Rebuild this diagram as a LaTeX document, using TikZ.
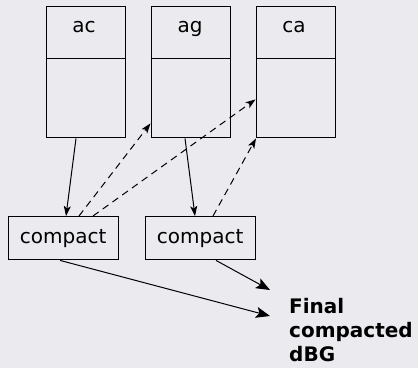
\documentclass[tikz,border=0pt]{standalone}
\usepackage{fontspec}
\setmainfont{DejaVu Sans}
\usetikzlibrary{arrows.meta,calc}
\definecolor{bg}{RGB}{235,234,239}
\tikzset{
  colbox/.style={draw, line width=1.4pt, minimum width=79pt, minimum height=131pt, inner sep=0pt, anchor=north west},
  cbox/.style={draw, line width=1.4pt, minimum width=110pt, minimum height=43pt, inner sep=0pt, anchor=north west, font=\fontsize{20}{24}\selectfont},
  lbl/.style={font=\fontsize{20}{24}\selectfont, inner sep=0pt},
  solidarr/.style={line width=1pt, -{Stealth[length=10pt,width=7pt,inset=2.5pt]}},
  dasharr/.style={line width=1pt, dash pattern=on 7pt off 5pt, -{Stealth[length=10pt,width=7pt,inset=2.5pt]}},
  bigarr/.style={line width=1pt, -{Stealth[length=14pt,width=11pt,inset=3pt]}}
}
\begin{document}
\begin{tikzpicture}[x=1pt,y=-1pt]
\fill[bg] (0,0) rectangle (418,368);
\useasboundingbox (0,0) rectangle (418,368);
% column boxes
\node[colbox] (ac) at (45.5,6) {};
\node[colbox] (ag) at (150.5,6) {};
\node[colbox] (ca) at (255.5,6) {};
\foreach \b in {ac,ag,ca}{
  \draw[line width=1pt] ($(\b.north west)+(0,52)$) -- ($(\b.north east)+(0,52)$);
}
\node[lbl, anchor=base] (acl) at (84,32) {ac};
\node[lbl, anchor=base] (agl) at (190,32) {ag};
\node[lbl, anchor=base] (cal) at (294,32) {ca};
% compact boxes
\node[cbox] (c1) at (7.5,216) {compact};
\node[cbox] (c2) at (144.5,216) {compact};
% final label
\node[lbl, font=\fontsize{20}{24}\selectfont\bfseries, align=left, anchor=north west] (fin) at (289,298) {Final\\compacted\\dBG};
% connector end coordinates
\coordinate (acS) at ($(ac.south west)+(30.5,0)$);
\coordinate (agS) at ($(ag.south west)+(34.5,0)$);
\coordinate (c1N) at ($(c1.north west)+(58.5,0)$);
\coordinate (c2N) at ($(c2.north west)+(50.5,0)$);
\coordinate (c1Na) at ($(c1.north west)+(71.5,0)$);
\coordinate (c1Nb) at ($(c1.north west)+(85.5,0)$);
\coordinate (c2Na) at ($(c2.north west)+(68.5,0)$);
\coordinate (agW) at ($(ag.south west)+(0,-15)$);
\coordinate (caW) at ($(ca.south west)+(0,-39)$);
\coordinate (caSW) at ($(ca.south west)+(0.5,0)$);
\coordinate (c1S) at ($(c1.south west)+(52.5,0)$);
\coordinate (c2S) at ($(c2.south west)+(71.5,0)$);
\coordinate (finA) at (270,290);
\coordinate (finB) at (270,316);
% connectors
\draw[solidarr] (acS) -- (c1N);
\draw[solidarr] (agS) -- (c2N);
\draw[dasharr] (c1Na) -- (agW);
\draw[dasharr] (c1Nb) -- (caW);
\draw[dasharr] (c2Na) -- (caSW);
\draw[bigarr] (c1S) -- (finB);
\draw[bigarr] (c2S) -- (finA);
\end{tikzpicture}
\end{document}
